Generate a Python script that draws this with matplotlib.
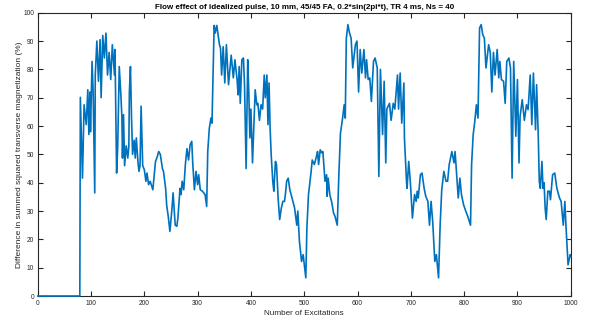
import matplotlib
matplotlib.use("Agg")
import matplotlib.pyplot as plt
import numpy as np

# Summed squared transverse magnetization difference vs. excitation number
excitation = [
    0, 79, 80, 84, 87, 91, 94, 96, 98, 99, 102, 104, 107, 108, 111, 114, 117, 119,
    122, 125, 128, 131, 134, 137, 140, 144, 145, 148, 150, 153, 156, 158, 159, 161,
    163, 166, 169, 171, 172, 174, 176, 178, 181, 183, 185, 188, 190, 192, 194, 197,
    200, 203, 205, 208, 211, 216, 221,
    224, 227, 230, 234, 236, 240, 242, 245, 248, 252, 254, 258, 261, 263, 267, 269,
    271, 274, 277, 280, 283, 286, 289, 291, 294, 297, 300, 302, 305, 309, 314, 317,
    319, 322, 325, 327, 328, 331, 333, 336, 338, 341, 343, 345, 348, 351, 354, 358,
    363, 367, 370, 374, 376,
    378, 380, 383, 386, 388, 391, 394, 396, 398, 400, 403, 408, 411, 413, 416, 419,
    422, 425, 427, 430, 432, 434, 436, 438, 441, 443, 446, 448, 451, 454, 457, 460,
    463, 465, 467, 470, 473, 478, 482, 486, 488, 491, 495, 498, 503, 505, 508, 513,
    515, 519, 524,
    525, 527, 530, 533, 535, 539, 542, 543, 545, 548, 552, 555, 558, 562, 565, 568,
    572, 575, 577, 579, 582, 585, 588, 591, 596, 599, 602, 605, 608, 612, 615, 617,
    620, 623, 626, 630, 633, 637, 640, 643, 647, 650, 653, 655, 660, 663, 667, 670,
    675,
    677, 680, 683, 687, 688, 692, 693, 696, 699, 703, 707, 710, 712, 714, 718, 721,
    725, 728, 732, 735, 738, 741, 745, 748, 752, 755, 758, 762, 766, 769, 772, 777,
    781, 783, 786, 789, 792, 795, 799, 803, 807, 812, 814, 817, 820, 823,
    826, 829, 832, 835, 838, 841, 846, 849, 852, 855, 858, 862, 865, 867, 870, 874,
    877, 880, 884, 887, 890, 893, 897, 900, 903, 905, 909, 913, 917, 920, 924, 927,
    930, 934, 936, 939, 941, 943, 946, 948, 950, 952, 954, 957, 960, 962, 966, 970,
    974, 979, 982, 986, 989, 991, 995, 999, 1000,
]
magnetization_diff = [
    0, 0, 70.1, 41.6, 67.5, 60.5, 72.8, 57.0, 72.0, 58.0, 82.8, 72.0, 36.4, 78.0, 90.0, 75.8, 90.5, 70.0,
    92.0, 84.0, 92.8, 78.0, 86.0, 76.4, 88.7, 78.0, 87.0, 43.4, 52.0, 81.0, 71.0, 63.0, 48.7, 64.0,
    46.0, 53.0, 48.7, 53.0, 72.0, 81.0, 63.0, 50.0, 55.0, 48.7, 55.8, 47.5, 44.0, 46.0, 67.0, 46.0,
    44.6, 40.5, 43.4, 39.3, 40.5, 37.5, 47.5,
    49.0, 51.0, 50.0, 45.0, 44.0, 38.0, 32.0, 28.0, 22.8, 31.0, 36.4, 25.0, 24.6, 27.5, 38.0, 35.8,
    40.5, 37.5, 46.4, 52.0, 48.0, 53.4, 54.6, 46.4, 37.5, 44.0, 39.3, 42.8, 37.5, 37.0, 35.8, 31.6,
    51.0, 59.3, 62.8, 61.0, 70.0, 95.5, 92.8, 95.5, 92.8, 88.7, 87.5, 78.0, 88.0, 75.2, 88.7, 74.6,
    85.0, 77.0, 83.4, 76.4, 71.0,
    81.0, 68.0, 83.4, 84.0, 74.6, 45.0, 83.4, 72.0, 55.8, 66.0, 47.0, 72.8, 67.5, 68.0, 62.0, 67.5,
    66.0, 78.0, 70.0, 78.0, 60.5, 75.2, 59.3, 50.0, 40.5, 37.0, 47.5, 46.4, 34.6, 27.0, 31.0, 33.4,
    33.4, 36.4, 40.5, 41.6, 37.5, 34.0, 31.0, 25.0, 30.0, 19.3, 12.2, 14.6, 6.4, 24.0, 35.8, 44.0,
    48.0, 46.4, 50.0,
    51.0, 46.4, 51.6, 50.5, 51.0, 40.5, 42.8, 35.2, 41.6, 35.8, 32.8, 29.3, 28.0, 25.0, 42.8, 57.5,
    62.8, 67.5, 62.8, 91.0, 95.8, 92.8, 91.0, 80.5, 88.7, 90.0, 72.0, 87.0, 78.7, 87.0, 77.0, 83.4,
    76.4, 77.0, 68.7, 82.8, 84.0, 80.5, 42.2, 80.0, 57.0, 75.8, 47.0, 66.0, 68.0, 62.0, 68.0, 66.0,
    78.0,
    66.0, 78.7, 61.0, 75.2, 55.8, 40.0, 38.0, 47.5, 40.5, 27.5, 35.8, 33.4, 37.0, 34.6, 42.8, 43.4,
    38.0, 35.2, 33.4, 25.0, 33.4, 26.4, 12.2, 14.6, 6.4, 25.0, 37.5, 44.0, 40.5, 40.5, 46.4, 51.0,
    47.0, 51.0, 42.8, 34.6, 41.6, 35.8, 32.2, 30.0, 28.0, 25.0, 46.4, 57.0, 61.6, 67.5,
    62.8, 94.6, 95.8, 92.2, 91.0, 80.5, 88.7, 86.0, 72.0, 86.0, 78.0, 87.0, 77.0, 82.8, 76.4, 75.8,
    68.0, 82.8, 84.0, 80.5, 41.6, 82.8, 56.4, 76.4, 47.0, 63.4, 69.3, 62.0, 67.5, 65.8, 78.0, 60.5,
    78.7, 58.7, 74.6, 57.0, 40.5, 38.0, 47.5, 38.0, 40.0, 31.0, 27.0, 37.0, 37.0, 34.0, 42.8, 43.4,
    38.0, 34.6, 33.4, 25.0, 33.4, 25.0, 11.0, 14.6, 14.0,
]

x_ticks = list(range(0, 1001, 100))
y_ticks = list(range(0, 101, 10))

title_text = "Flow effect of idealized pulse, 10 mm, 45/45 FA, 0.2*sin(2pi*t), TR 4 ms, Ns = 40"
x_label = "Number of Excitations"
y_label = "Difference in summed squared transverse magnetization (%)"

plt.rcParams["font.family"] = ["Liberation Sans", "DejaVu Sans"]
axis_color = "#262626"

fig = plt.figure(figsize=(5.91, 3.24), dpi=100)
ax = fig.add_axes([0.0638, 0.0864, 0.9019, 0.8744])

ax.plot(excitation, magnetization_diff, color="#0072BD", linewidth=1.2,
        zorder=3, clip_on=False)

ax.set_xlim(0, 1000)
ax.set_ylim(0, 100)
ax.set_xticks(x_ticks)
ax.set_yticks(y_ticks)

for side in ["top", "right", "bottom", "left"]:
    ax.spines[side].set_color(axis_color)
    ax.spines[side].set_linewidth(0.8)

ax.tick_params(axis="both", which="major", direction="in", length=3.8, width=0.8,
               color=axis_color, labelcolor=axis_color, labelsize=4.8,
               top=True, right=True)
ax.tick_params(axis="x", pad=3)
ax.tick_params(axis="y", pad=2.5)

ax.set_title(title_text, fontsize=5.8, fontweight="bold", color="black", pad=2.5)
ax.set_xlabel(x_label, fontsize=5.9, color=axis_color, labelpad=2)
ax.set_ylabel(y_label, fontsize=6.0, color=axis_color, labelpad=0.5)

fig.savefig("out.png", dpi=100)
